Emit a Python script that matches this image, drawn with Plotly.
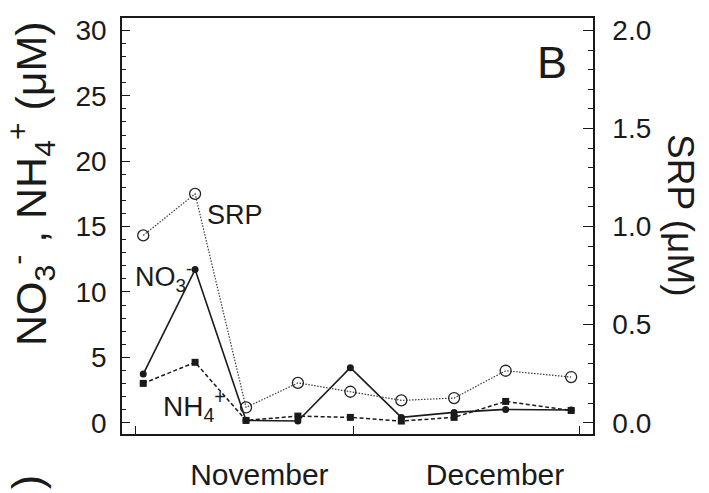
import plotly.graph_objects as go

# ---- data ----
dates = ["2004-11-02 03:00", "2004-11-09 06:00", "2004-11-16 06:00",
         "2004-11-23 09:00", "2004-11-30 14:00", "2004-12-07 14:00",
         "2004-12-14 20:00", "2004-12-21 22:00", "2004-12-30 22:00"]
no3 = [3.72, 11.71, 0.18, 0.13, 4.21, 0.41, 0.79, 1.02, 0.97]
nh4 = [3.01, 4.62, 0.18, 0.51, 0.41, 0.13, 0.41, 1.63, 0.94]
srp = [0.955, 1.167, 0.078, 0.203, 0.158, 0.114, 0.126, 0.265, 0.233]

month_labels = ["November", "December"]
month_label_pos = ["2004-11-18 02:00", "2004-12-20 11:00"]
month_starts = ["2004-11-01", "2004-12-01", "2005-01-01"]
x_range = ["2004-10-30 05:00", "2005-01-02 22:00"]

left_range = [-0.86, 30.95]
srp_scale = 15.0  # 30 uM on left == 2.0 uM on right
right_range = [left_range[0] / srp_scale, left_range[1] / srp_scale]

INK = "#1a1a1a"
FONT = "Liberation Sans, Arial, sans-serif"

fig = go.Figure()

fig.add_trace(go.Scatter(
    x=dates, y=no3, mode="lines+markers", yaxis="y",
    line=dict(color=INK, width=1.6),
    marker=dict(symbol="circle", size=7, color=INK),
    name="NO3-"))

fig.add_trace(go.Scatter(
    x=dates, y=nh4, mode="lines+markers", yaxis="y",
    line=dict(color=INK, width=1.5, dash="4px,2.5px"),
    marker=dict(symbol="square", size=7, color=INK),
    name="NH4+"))

fig.add_trace(go.Scatter(
    x=dates, y=srp, mode="lines+markers", yaxis="y2",
    line=dict(color="#3a3a3a", width=1.2, dash="1.5px,1.5px"),
    marker=dict(symbol="circle-open", size=11, color="#222222",
                line=dict(width=1.3, color="#222222")),
    name="SRP"))

fig.update_layout(
    width=709, height=493,
    margin=dict(l=122, r=116, t=18, b=59),
    paper_bgcolor="white", plot_bgcolor="white",
    showlegend=False,
    font=dict(family=FONT, color=INK),
    xaxis=dict(
        type="date", range=x_range, automargin=False,
        tickmode="array", tickvals=month_label_pos, ticktext=month_labels,
        ticks="", showgrid=False, zeroline=False,
        showline=True, linecolor=INK, linewidth=1.5, mirror=True,
        tickfont=dict(size=30, family=FONT, color=INK),
        ticklabelstandoff=13,
        minor=dict(tickmode="array", tickvals=month_starts, ticks="inside",
                   ticklen=8, tickwidth=1.2, tickcolor=INK, showgrid=False),
    ),
    yaxis=dict(
        range=left_range, tickmode="linear", tick0=0, dtick=5,
        automargin=False,
        ticks="inside", ticklen=8, tickwidth=1.2, tickcolor=INK,
        showgrid=False, zeroline=False,
        showline=True, linecolor=INK, linewidth=1.5,
        tickfont=dict(size=28, family=FONT, color=INK),
        ticklabelstandoff=8,
        minor=dict(dtick=1, ticks="inside", ticklen=4, tickwidth=1,
                   tickcolor=INK, showgrid=False),
    ),
    yaxis2=dict(
        overlaying="y", side="right", range=right_range,
        automargin=False,
        tickmode="linear", tick0=0, dtick=0.5, tickformat=".1f",
        ticks="inside", ticklen=10, tickwidth=1.2, tickcolor=INK,
        showgrid=False, zeroline=False,
        showline=True, linecolor=INK, linewidth=1.5,
        tickfont=dict(size=28, family=FONT, color=INK),
        ticklabelstandoff=12,
        minor=dict(dtick=0.1, ticks="inside", ticklen=5, tickwidth=1,
                   tickcolor=INK, showgrid=False),
    ),
)

ann = [
    dict(text="B", x=0.913, y=0.892, font=dict(size=45)),
    dict(text="SRP", x=0.240, y=0.526, font=dict(size=27)),
    dict(text="NO<sub>3</sub><sup>-</sup>", x=0.023, y=0.377,
         xanchor="left", font=dict(size=27)),
    dict(text="NH<sub>4</sub><sup>+</sup>", x=0.083, y=0.068,
         xanchor="left", font=dict(size=28)),
    dict(text="NO<sub>3</sub><sup>-</sup> , NH<sub>4</sub><sup>+</sup> (μM)",
         x=-0.193, y=0.601, textangle=-90, font=dict(size=43)),
    dict(text="SRP (μM)", x=1.187, y=0.526, textangle=90, font=dict(size=37)),
    dict(text=")", x=-0.203, y=-0.115, textangle=-90, font=dict(size=43)),
]
for a in ann:
    base = dict(xref="paper", yref="paper", showarrow=False,
                xanchor="center", yanchor="middle")
    base.update(a)
    base["font"] = dict(family=FONT, color=INK, **a["font"])
    fig.add_annotation(**base)

fig.write_html("out.html")
